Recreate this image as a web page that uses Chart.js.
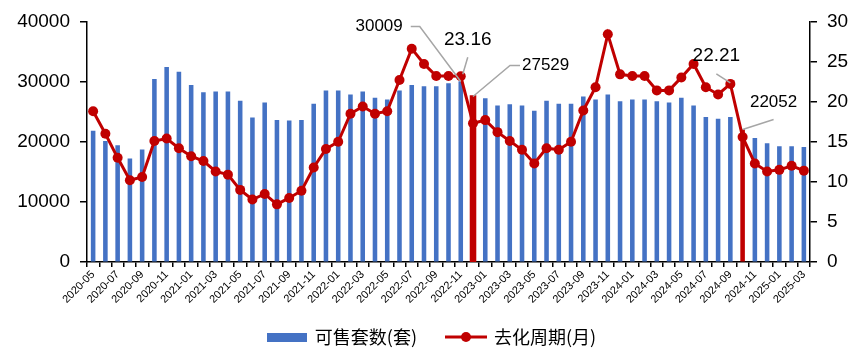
<!DOCTYPE html>
<html>
<head>
<meta charset="utf-8">
<script src="https://cdn.jsdelivr.net/npm/chart.js@4"></script>
<style>
  html, body { margin: 0; padding: 0; background: #fff; }
  #wrap { width: 864px; height: 362px; }
</style>
</head>
<body>
<div id="wrap"><canvas id="c"></canvas></div>
<script>
var months = [
	'2020-05', '2020-06', '2020-07', '2020-08', '2020-09', '2020-10', '2020-11', '2020-12',
	'2021-01', '2021-02', '2021-03', '2021-04', '2021-05', '2021-06', '2021-07', '2021-08',
	'2021-09', '2021-10', '2021-11', '2021-12', '2022-01', '2022-02', '2022-03', '2022-04',
	'2022-05', '2022-06', '2022-07', '2022-08', '2022-09', '2022-10', '2022-11', '2022-12',
	'2023-01', '2023-02', '2023-03', '2023-04', '2023-05', '2023-06', '2023-07', '2023-08',
	'2023-09', '2023-10', '2023-11', '2023-12', '2024-01', '2024-02', '2024-03', '2024-04',
	'2024-05', '2024-06', '2024-07', '2024-08', '2024-09', '2024-10', '2024-11', '2024-12',
	'2025-01', '2025-02', '2025-03'
];

// 可售套数(套)
var stock = [
	21800, 20100, 19400, 17200, 18700, 30400, 32400, 31600, 29400, 28200,
	28300, 28300, 26800, 24000, 26500, 23600, 23500, 23600, 26300, 28500,
	28500, 27800, 28300, 27300, 27000, 28500, 29400, 29200, 29200, 29700,
	30009, 27529, 27200, 26000, 26200, 26000, 25100, 26800, 26300, 26300,
	27500, 27000, 27800, 26700, 27000, 27000, 26700, 26500, 27300, 26000,
	24100, 23800, 24100, 22052, 20600, 19700, 19200, 19200, 19100
];

// 去化周期(月)
var cycle = [
	18.8, 16.0, 13.0, 10.2, 10.6, 15.1, 15.4, 14.2, 13.2, 12.6,
	11.3, 10.9, 9.0, 7.8, 8.5, 7.2, 8.0, 8.9, 11.8, 14.1,
	15.0, 18.5, 19.4, 18.5, 18.8, 22.7, 26.6, 24.7, 23.2, 23.2,
	23.16, 17.3, 17.7, 16.2, 15.1, 14.0, 12.3, 14.2, 14.0, 15.0,
	18.9, 21.8, 28.4, 23.4, 23.2, 23.2, 21.4, 21.4, 23.0, 24.7,
	21.8, 20.9, 22.21, 15.6, 12.3, 11.3, 11.5, 12.0, 11.4
];

var leftTicks = [0, 10000, 20000, 30000, 40000];
var rightTicks = [0, 5, 10, 15, 20, 25, 30];

var BLUE = '#4472C4';
var RED = '#C00000';
var redBars = [31, 53];

// callout labels: which point, which axis, text
var callouts = [
	{ idx: 30, axis: 'y', text: '30009', size: 17 },
	{ idx: 30, axis: 'y1', text: '23.16', size: 19 },
	{ idx: 31, axis: 'y', text: '27529', size: 17 },
	{ idx: 52, axis: 'y1', text: '22.21', size: 19 },
	{ idx: 53, axis: 'y', text: '22052', size: 17 }
];

function legendBar() {
	var c = document.createElement( 'canvas' );
	c.width = 40; c.height = 9;
	var g = c.getContext( '2d' );
	g.fillStyle = BLUE;
	g.fillRect( 0, 0, 40, 9 );
	return c;
}

function legendLine() {
	var c = document.createElement( 'canvas' );
	c.width = 42; c.height = 12;
	var g = c.getContext( '2d' );
	g.fillStyle = RED;
	g.fillRect( 0, 4.5, 42, 3 );
	g.beginPath();
	g.arc( 21, 6, 5, 0, Math.PI * 2 );
	g.fill();
	return c;
}

var calloutPlugin = {
	id: 'callouts',
	afterDatasetsDraw: function ( chart ) {
		var ctx = chart.ctx;
		var xs = chart.scales.x;
		// leader shapes relative to the anchor point
		var shapes = {
			'30009': { pts: [ [ 0, 0 ], [ -41, -55 ], [ -50, -55 ] ], tx: -58, ty: -55, align: 'right' },
			'23.16': { pts: [ [ 2, -2 ], [ 7, -19 ] ], tx: 7, ty: -37, align: 'center' },
			'27529': { pts: [ [ 0, 0 ], [ 37, -31 ], [ 47, -31 ] ], tx: 49, ty: -31, align: 'left' },
			'22.21': { pts: [ [ -14, -10 ], [ 0, -1 ] ], tx: -14, ty: -28, align: 'center' },
			'22052': { pts: [ [ 0, 0 ], [ 31, -10 ] ], tx: 31, ty: -27, align: 'center' }
		};
		ctx.save();
		callouts.forEach( function ( c ) {
			var data = c.axis === 'y' ? stock : cycle;
			var ax = xs.getPixelForValue( c.idx );
			var ay = chart.scales[ c.axis ].getPixelForValue( data[ c.idx ] );
			var s = shapes[ c.text ];
			ctx.strokeStyle = '#A6A6A6';
			ctx.lineWidth = 1.5;
			ctx.beginPath();
			s.pts.forEach( function ( p, i ) {
				if ( i === 0 ) {
					ctx.moveTo( ax + p[ 0 ], ay + p[ 1 ] );
				} else {
					ctx.lineTo( ax + p[ 0 ], ay + p[ 1 ] );
				}
			} );
			ctx.stroke();
			ctx.fillStyle = '#000';
			ctx.font = c.size + 'px "Liberation Sans", Arial, sans-serif';
			ctx.textAlign = s.align;
			ctx.textBaseline = 'middle';
			ctx.fillText( c.text, ax + s.tx, ay + s.ty );
		} );
		ctx.restore();
	}
};

var axisFont = { family: '"Liberation Sans", Arial, sans-serif', size: 19 };
var plain = function ( v ) { return String( v ); };

new Chart( document.getElementById( 'c' ).getContext( '2d' ), {
	data: {
		labels: months,
		datasets: [ {
			type: 'line',
			label: '去化周期(月)',
			data: cycle,
			yAxisID: 'y1',
			borderColor: RED,
			backgroundColor: RED,
			borderWidth: 3,
			pointRadius: 5,
			pointHoverRadius: 5,
			pointBackgroundColor: RED,
			pointBorderWidth: 0,
			tension: 0,
		}, {
			type: 'bar',
			label: '可售套数(套)',
			data: stock,
			yAxisID: 'y',
			backgroundColor: function ( c ) {
				return redBars.indexOf( c.dataIndex ) >= 0 ? RED : BLUE;
			},
			inflateAmount: function ( c ) {
				return c.dataIndex === 31 ? 1.2 : 0.2;
			},
			borderWidth: 0,
			barPercentage: 0.34,
			categoryPercentage: 1,
		} ],
	},
	options: {
		responsive: true,
		maintainAspectRatio: false,
		animation: false,
		layout: { padding: { top: 18, left: 0, right: 0, bottom: 6 } },
		plugins: {
			tooltip: { enabled: false },
			legend: {
				position: 'bottom',
				labels: {
					usePointStyle: true,
					pointStyleWidth: 38,
					padding: 21,
					color: '#000',
					font: { family: '"Noto Sans CJK SC", sans-serif', size: 18 },
					generateLabels: function () {
						return [
							{ text: '可售套数(套)\u2002', pointStyle: legendBar(), datasetIndex: 1, lineWidth: 0, strokeStyle: 'rgba(0,0,0,0)', fillStyle: BLUE, fontColor: '#000' },
							{ text: '去化周期(月)', pointStyle: legendLine(), datasetIndex: 0, lineWidth: 0, strokeStyle: 'rgba(0,0,0,0)', fillStyle: RED, fontColor: '#000' }
						];
					},
				},
			},
		},
		scales: {
			x: {
				grid: { drawOnChartArea: false, tickLength: 5, color: '#000', lineWidth: 1.5, offset: true },
				border: { color: '#000', width: 1.5 },
				ticks: {
					autoSkip: false,
					maxRotation: 45,
					minRotation: 45,
					padding: 1,
					color: '#000',
					font: { family: '"Liberation Sans", Arial, sans-serif', size: 11 },
					callback: function ( v, i ) { return i % 2 === 0 ? months[ i ] : ''; },
				},
			},
			y: {
				position: 'left',
				min: leftTicks[ 0 ],
				max: leftTicks[ leftTicks.length - 1 ],
				afterBuildTicks: function ( s ) { s.ticks = leftTicks.map( function ( v ) { return { value: v }; } ); },
				afterFit: function ( s ) { s.width = 87; },
				grid: { drawOnChartArea: false, tickLength: 7, color: '#000', lineWidth: 1.5 },
				border: { color: '#000', width: 1.5 },
				ticks: { color: '#000', font: axisFont, padding: 10, callback: plain },
			},
			y1: {
				position: 'right',
				min: rightTicks[ 0 ],
				max: rightTicks[ rightTicks.length - 1 ],
				afterBuildTicks: function ( s ) { s.ticks = rightTicks.map( function ( v ) { return { value: v }; } ); },
				afterFit: function ( s ) { s.width = 54; },
				grid: { drawOnChartArea: false, tickLength: 7, color: '#000', lineWidth: 1.5 },
				border: { color: '#000', width: 1.5 },
				ticks: { color: '#000', font: axisFont, padding: 10, callback: plain },
			},
		},
	},
	plugins: [ calloutPlugin ],
} );
</script>
</body>
</html>
